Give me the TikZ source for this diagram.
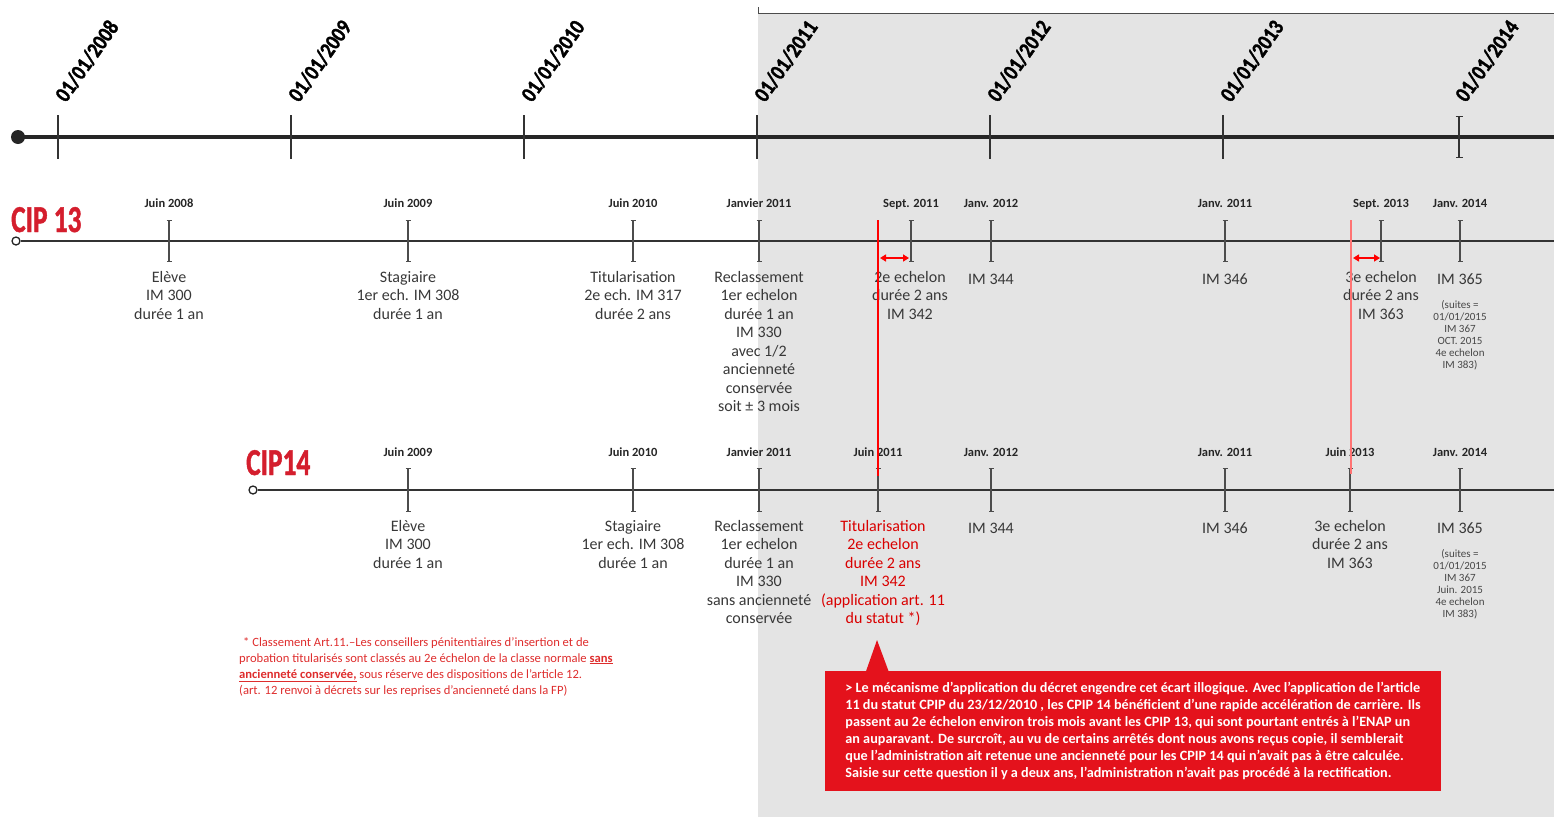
\documentclass[tikz,border=0pt]{standalone}
\usepackage{fontspec}
\setmainfont{Carlito}
\newfontfamily\cipfont{Carlito Bold}[FakeStretch=0.72, FakeBold=1.2]
\newfontfamily\datefont{Carlito Bold}[FakeStretch=0.86, FakeBold=1.6]
\usetikzlibrary{calc, arrows.meta}

\definecolor{bggray}{RGB}{228,228,228}
\definecolor{cipred}{RGB}{212,30,45}
\definecolor{boxred}{RGB}{228,18,28}
\definecolor{notered}{RGB}{222,45,45}

\tikzset{
  axtick/.style={draw=black!80, line width=1.3pt},
  datelbl/.style={font=\datefont\fontsize{22}{22}\selectfont, rotate=55, anchor=south west, inner sep=0pt},
  ciplbl/.style={font=\cipfont\fontsize{38}{38}\selectfont, text=cipred, anchor=base west, inner sep=0pt},
  startdot/.style={circle, draw=black!85, line width=1.3pt, fill=white, minimum size=8pt, inner sep=0pt},
  cipline/.style={draw=black!80, line width=2.2pt},
  rowtick/.style={draw=black!70, line width=1.2pt, {Bar[width=5pt]}-{Bar[width=5pt]}},
  ticklbl/.style={font=\bfseries\fontsize{12.5}{13}\selectfont, text=black!85, anchor=base, inner sep=0pt},
  desc/.style={font=\fontsize{16}{18.5}\selectfont, text=black!78, align=center, anchor=north, inner sep=0pt, execute at begin node=\strut},
  smalldesc/.style={font=\fontsize{11}{12}\selectfont, text=black!72, align=center, anchor=north, inner sep=0pt, execute at begin node=\strut},
  redline/.style={draw=red, line width=1.2pt},
  paleline/.style={draw=red!55, line width=2pt},
  redarrow/.style={draw=red, line width=1.5pt, {Triangle[length=6pt,width=7pt]}-{Triangle[length=6pt,width=7pt]}},
  footnote/.style={font=\fontsize{12.6}{16}\selectfont, text=notered, align=left, anchor=north west, inner sep=0pt, execute at begin node=\strut},
  notebox/.style={fill=boxred, text=white, font=\bfseries\fontsize{14.2}{17}\selectfont, align=left, minimum width=616pt, minimum height=120pt, inner sep=0pt}
}

\begin{document}
\begin{tikzpicture}[x=1pt, y=-1pt]
\useasboundingbox (0,0) rectangle (1554,817);

% grey part from 2011 on
\fill[bggray] (758,13) rectangle (1554,817);
\draw[black!70, line width=1pt] (758,7) -- (758,13) -- (1554,13);

% main time axis
\fill[black!85] (18,137) circle[radius=7pt];
\draw[black!85, line width=3.5pt] (18,137) -- (1554,137);
\draw[axtick] (58,115) -- (58,159);
\draw[axtick] (291,115) -- (291,159);
\draw[axtick] (524,115) -- (524,159);
\draw[axtick] (757,115) -- (757,159);
\draw[axtick] (990,115) -- (990,159);
\draw[axtick] (1223,115) -- (1223,159);
\draw[axtick, {Bar[width=7pt]}-{Bar[width=7pt]}] (1459,116) -- (1459,158);

% years
\node[datelbl] (d08) at (67,104) {01/01/2008};
\node[datelbl] (d09) at (300,104) {01/01/2009};
\node[datelbl] (d10) at (533,104) {01/01/2010};
\node[datelbl] (d11) at (766,104) {01/01/2011};
\node[datelbl] (d12) at (999,104) {01/01/2012};
\node[datelbl] (d13) at (1232,104) {01/01/2013};
\node[datelbl] (d14) at (1467,104) {01/01/2014};

% CIP 13
\node[ciplbl] (cip13) at (11,232) {CIP 13};
\node[startdot] (s13) at (16,241) {};
\coordinate (e13) at (1554,241);
\draw[cipline] (s13) -- (e13);
\draw[rowtick] (169,220) -- (169,262);
\draw[rowtick] (408,220) -- (408,262);
\draw[rowtick] (633,220) -- (633,262);
\draw[rowtick] (759,220) -- (759,262);
\draw[rowtick] (911,220) -- (911,262);
\draw[rowtick] (991,220) -- (991,262);
\draw[rowtick] (1225,220) -- (1225,262);
\draw[rowtick] (1381,220) -- (1381,262);
\draw[rowtick] (1460,220) -- (1460,262);

\node[ticklbl] (t13a) at (169,207) {Juin 2008};
\node[ticklbl] (t13b) at (408,207) {Juin 2009};
\node[ticklbl] (t13c) at (633,207) {Juin 2010};
\node[ticklbl] (t13d) at (759,207) {Janvier 2011};
\node[ticklbl] (t13e) at (911,207) {Sept. 2011};
\node[ticklbl] (t13f) at (991,207) {Janv. 2012};
\node[ticklbl] (t13g) at (1225,207) {Janv. 2011};
\node[ticklbl] (t13h) at (1381,207) {Sept. 2013};
\node[ticklbl] (t13i) at (1460,207) {Janv. 2014};

\node[desc] (p13a) at (169,271) {Elève\\IM 300\\durée 1 an};
\node[desc] (p13b) at (408,271) {Stagiaire\\1er ech. IM 308\\durée 1 an};
\node[desc] (p13c) at (633,271) {Titularisation\\2e ech. IM 317\\durée 2 ans};
\node[desc] (p13d) at (759,271) {Reclassement\\1er echelon\\durée 1 an\\IM 330\\avec 1/2\\ancienneté\\conservée\\soit ± 3 mois};
\node[desc] (p13e) at (910,271) {2e echelon\\durée 2 ans\\IM 342};
\node[desc] (p13f) at (991,271) {IM 344};
\node[desc] (p13g) at (1225,271) {IM 346};
\node[desc] (p13h) at (1381,271) {3e echelon\\durée 2 ans\\IM 363};
\node[desc] (p13i) at (1460,271) {IM 365};
\node[smalldesc] (q13i) at (1460,300) {(suites =\\01/01/2015\\IM 367\\OCT. 2015\\4e echelon\\IM 383)};

% CIP 14
\node[ciplbl] (cip14) at (246,475) {CIP14};
\node[startdot] (s14) at (253,490) {};
\coordinate (e14) at (1554,490);
\draw[cipline] (s14) -- (e14);
\draw[rowtick] (408,468) -- (408,512);
\draw[rowtick] (633,468) -- (633,512);
\draw[rowtick] (759,468) -- (759,512);
\draw[rowtick] (878,468) -- (878,512);
\draw[rowtick] (991,468) -- (991,512);
\draw[rowtick] (1225,468) -- (1225,512);
\draw[rowtick] (1350,468) -- (1350,512);
\draw[rowtick] (1460,468) -- (1460,512);

\node[ticklbl] (t14a) at (408,456) {Juin 2009};
\node[ticklbl] (t14b) at (633,456) {Juin 2010};
\node[ticklbl] (t14c) at (759,456) {Janvier 2011};
\node[ticklbl] (t14d) at (878,456) {Juin 2011};
\node[ticklbl] (t14e) at (991,456) {Janv. 2012};
\node[ticklbl] (t14f) at (1225,456) {Janv. 2011};
\node[ticklbl] (t14g) at (1350,456) {Juin 2013};
\node[ticklbl] (t14h) at (1460,456) {Janv. 2014};

\node[desc] (p14a) at (408,520) {Elève\\IM 300\\durée 1 an};
\node[desc] (p14b) at (633,520) {Stagiaire\\1er ech. IM 308\\durée 1 an};
\node[desc] (p14c) at (759,520) {Reclassement\\1er echelon\\durée 1 an\\IM 330\\sans ancienneté\\conservée};
\node[desc, text=red!85!black] (p14d) at (883,520) {Titularisation\\2e echelon\\durée 2 ans\\IM 342\\(application art. 11\\du statut *)};
\node[desc] (p14e) at (991,520) {IM 344};
\node[desc] (p14f) at (1225,520) {IM 346};
\node[desc] (p14g) at (1350,520) {3e echelon\\durée 2 ans\\IM 363};
\node[desc] (p14h) at (1460,520) {IM 365};
\node[smalldesc] (q14h) at (1460,549) {(suites =\\01/01/2015\\IM 367\\Juin. 2015\\4e echelon\\IM 383)};

% gap between the two careers
\coordinate (ra) at (878,220);
\coordinate (rb) at (878,476);
\draw[redline] (ra) -- (rb);
\coordinate (pa) at (1351,220);
\coordinate (pb) at (1351,474);
\draw[paleline] (pa) -- (pb);
\coordinate (ga) at (880,258);
\coordinate (gb) at (909,258);
\draw[redarrow] (ga) -- (gb);
\coordinate (ha) at (1353,258);
\coordinate (hb) at (1380,258);
\draw[redarrow] (ha) -- (hb);

% note on article 11
\node[footnote] (art11) at (239,637) {\hspace{4pt}* Classement Art.11.–Les conseillers pénitentiaires d’insertion et de\\
probation titularisés sont classés au 2e échelon de la classe normale \underline{\textbf{sans}}\\
\underline{\textbf{ancienneté conservée,}} sous réserve des dispositions de l’article 12.\\
(art. 12 renvoi à décrets sur les reprises d’ancienneté dans la FP)};

% red comment box
\node[notebox] (note) at (1133,731) {> Le mécanisme d’application du décret engendre cet écart illogique. Avec l’application de l’article\\
11 du statut CPIP du 23/12/2010 , les CPIP 14 bénéficient d’une rapide accélération de carrière. Ils\\
passent au 2e échelon environ trois mois avant les CPIP 13, qui sont pourtant entrés à l’ENAP un\\
an auparavant. De surcroît, au vu de certains arrêtés dont nous avons reçus copie, il semblerait\\
que l’administration ait retenue une ancienneté pour les CPIP 14 qui n’avait pas à être calculée.\\
Saisie sur cette question il y a deux ans, l’administration n’avait pas procédé à la rectification.};
\fill[boxred] ($(note.north west)+(41,1)$) -- (877,640) -- ($(note.north west)+(64,1)$) -- cycle;
\end{tikzpicture}
\end{document}
